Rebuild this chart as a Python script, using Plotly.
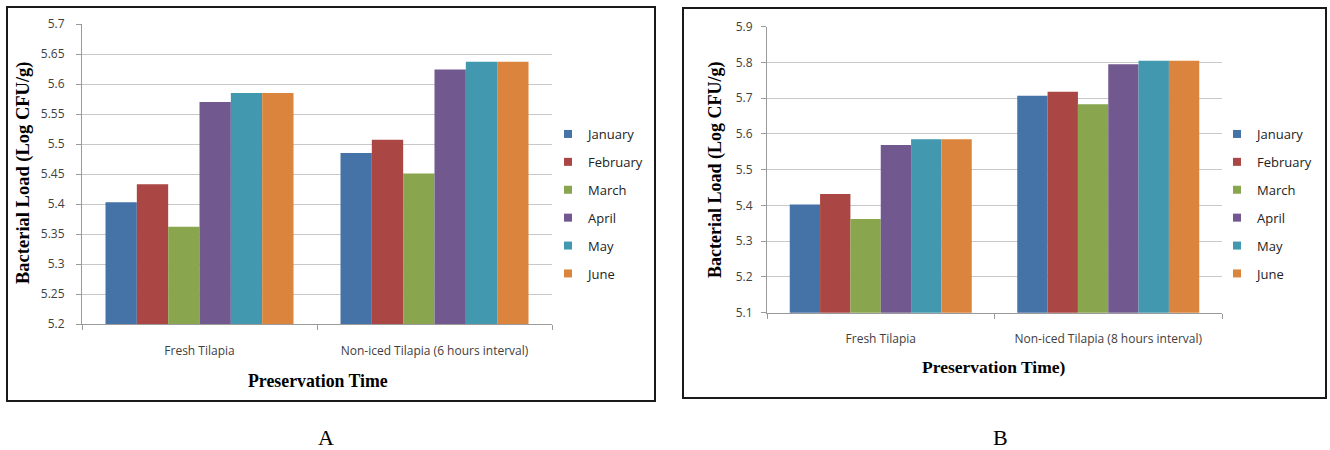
import plotly.graph_objects as go

W, H = 1330, 450

months = ["January", "February", "March", "April", "May", "June"]
colors = ["#4572A7", "#AA4643", "#89A54E", "#71588F", "#4198AF", "#DB843D"]

cats_a = ["Fresh Tilapia", "Non-iced Tilapia (6 hours interval)"]
cats_b = ["Fresh Tilapia", "Non-iced Tilapia (8 hours interval)"]

vals_a = {
    "January": [5.403, 5.485],
    "February": [5.433, 5.507],
    "March": [5.362, 5.451],
    "April": [5.570, 5.624],
    "May": [5.585, 5.637],
    "June": [5.585, 5.637],
}
vals_b = {
    "January": [5.403, 5.707],
    "February": [5.432, 5.718],
    "March": [5.362, 5.683],
    "April": [5.569, 5.795],
    "May": [5.585, 5.805],
    "June": [5.585, 5.805],
}

ticks_a = [5.2, 5.25, 5.3, 5.35, 5.4, 5.45, 5.5, 5.55, 5.6, 5.65, 5.7]
ticktext_a = ["5.2", "5.25", "5.3", "5.35", "5.4", "5.45", "5.5", "5.55", "5.6", "5.65", "5.7"]
ticks_b = [5.1, 5.2, 5.3, 5.4, 5.5, 5.6, 5.7, 5.8, 5.9]
ticktext_b = ["5.1", "5.2", "5.3", "5.4", "5.5", "5.6", "5.7", "5.8", "5.9"]


def px(x):
    return x / W


def py(y):
    return 1 - y / H


fig = go.Figure()
for m, c in zip(months, colors):
    fig.add_trace(go.Bar(x=cats_a, y=vals_a[m], name=m, marker=dict(color=c, line=dict(width=0)),
                         xaxis="x", yaxis="y", showlegend=False))
    fig.add_trace(go.Scatter(x=[None], y=[None], name=m, mode="markers",
                             marker=dict(color=c, symbol="square", size=8),
                             xaxis="x", yaxis="y", legend="legend", legendgroup="a" + m))
for m, c in zip(months, colors):
    fig.add_trace(go.Bar(x=cats_b, y=vals_b[m], name=m, marker=dict(color=c, line=dict(width=0)),
                         xaxis="x2", yaxis="y2", showlegend=False))
    fig.add_trace(go.Scatter(x=[None], y=[None], name=m, mode="markers",
                             marker=dict(color=c, symbol="square", size=8),
                             xaxis="x2", yaxis="y2", legend="legend2", legendgroup="b" + m))

tickfont = dict(family="Open Sans", size=12, color="#404040")
gridc = "#C8C8C8"
axc = "#9A9A9A"

common_y = dict(showgrid=True, gridcolor=gridc, gridwidth=1, zeroline=False,
                showline=True, linecolor=axc, linewidth=1, ticks="outside",
                ticklen=5, tickcolor=axc, tickfont=tickfont,
                fixedrange=True, automargin=False)
common_x = dict(showgrid=False, zeroline=False, showline=True, linecolor=axc,
                linewidth=1, ticks="outside", ticklen=5, tickcolor=axc,
                tickson="boundaries", tickfont=tickfont,
                fixedrange=True, automargin=False)

legfont = dict(family="Open Sans", size=13, color="#222222")

fig.update_layout(
    width=W, height=H, autosize=False,
    margin=dict(l=0, r=0, t=0, b=0, autoexpand=False),
    paper_bgcolor="white", plot_bgcolor="white",
    barmode="group", bargap=0.2, bargroupgap=0,
    showlegend=True,
    xaxis=dict(domain=[px(82), px(552)], anchor="y", ticklabelstandoff=16, **common_x),
    yaxis=dict(domain=[py(324), py(24)], anchor="x", range=[5.2, 5.7],
               tickvals=ticks_a, ticktext=ticktext_a, ticklabelstandoff=9, **common_y),
    xaxis2=dict(domain=[px(767), px(1222)], anchor="y2", ticklabelstandoff=15, **common_x),
    yaxis2=dict(domain=[py(312.7), py(26.7)], anchor="x2", range=[5.1, 5.9],
                tickvals=ticks_b, ticktext=ticktext_b, ticklabelstandoff=6, **common_y),
    legend=dict(x=px(548), y=py(119), xanchor="left", yanchor="top",
                font=legfont, tracegroupgap=8, bgcolor="rgba(0,0,0,0)"),
    legend2=dict(x=px(1217), y=py(119), xanchor="left", yanchor="top",
                 font=legfont, tracegroupgap=8, bgcolor="rgba(0,0,0,0)"),
)

annots = [
    dict(text="<b>Preservation Time</b>", x=px(317.5), y=py(381), size=17.8),
    dict(text="<b>Bacterial Load (Log CFU/g)</b>", x=px(24), y=py(173), textangle=-90, size=18.5),
    dict(text="<b>Preservation Time)</b>", x=px(994), y=py(367), size=17.5),
    dict(text="<b>Bacterial Load (Log CFU/g)</b>", x=px(715), y=py(170), textangle=-90, size=18),
]
for a in annots:
    size = a.pop("size")
    fig.add_annotation(xref="paper", yref="paper", showarrow=False,
                       xanchor="center", yanchor="middle",
                       font=dict(family="Liberation Serif", size=size, color="black"), **a)

for lbl, xc in [("A", 326), ("B", 1000)]:
    fig.add_annotation(text=lbl, xref="paper", yref="paper", x=px(xc), y=py(437),
                       showarrow=False, xanchor="center", yanchor="middle",
                       font=dict(family="Liberation Serif", size=22, color="black"))

for (x0, y0, x1, y1) in [(7, 7, 655, 401), (683, 8, 1326, 398)]:
    fig.add_shape(type="rect", xref="paper", yref="paper",
                  x0=px(x0), y0=py(y1), x1=px(x1), y1=py(y0),
                  line=dict(color="#1a1a1a", width=2), fillcolor="rgba(0,0,0,0)")

fig.write_html("out.html")
